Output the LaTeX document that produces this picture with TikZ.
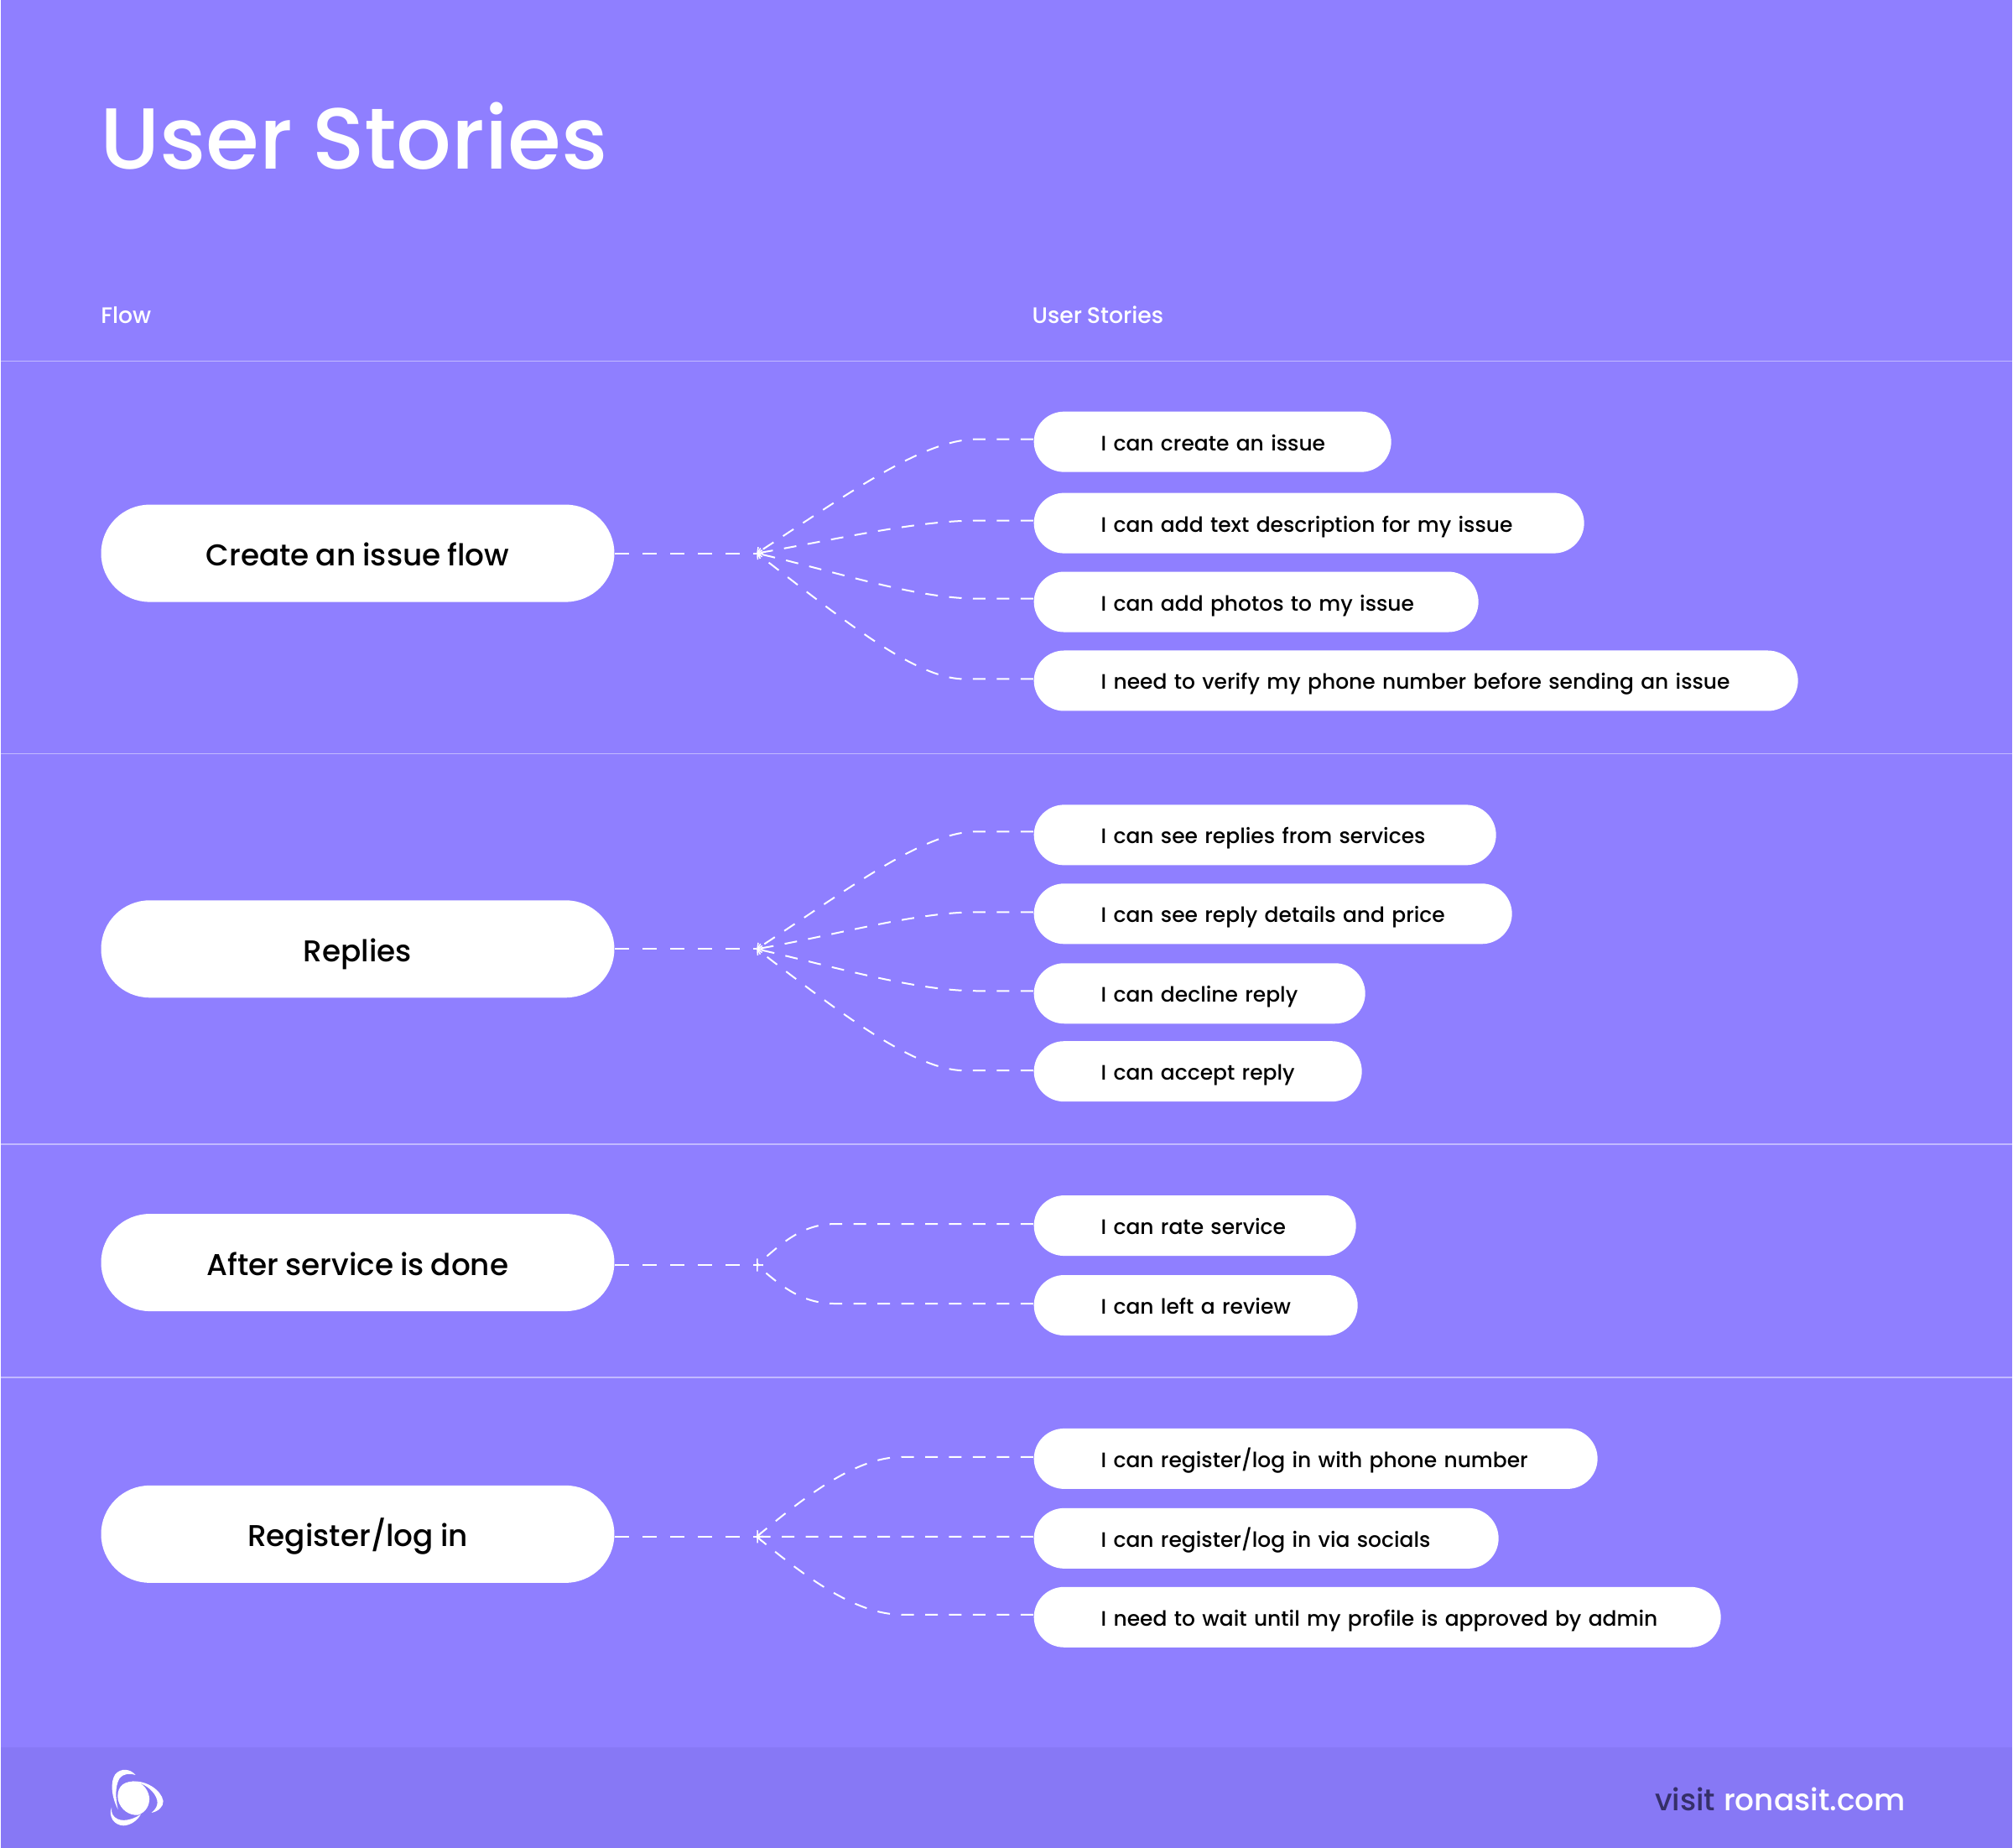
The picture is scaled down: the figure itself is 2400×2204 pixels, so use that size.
\documentclass[tikz,border=0pt]{standalone}
\usepackage{fontspec}
\setmainfont{Poppins}[UprightFont=* Medium,WordSpace=0.85]
\usetikzlibrary{arrows.meta}
\definecolor{ronasbg}{HTML}{8F7FFF}
\definecolor{ronasfoot}{HTML}{8778F5}
\definecolor{ronasrule}{HTML}{C2BAFF}
\definecolor{ronasdark}{HTML}{352F68}
\tikzset{
	flowpill/.style={fill=white,rounded corners=.58cm,minimum width=6.12cm,minimum height=1.16cm,inner sep=0pt,font=\fontsize{10.2}{12}\selectfont,text height=.40cm,text depth=.1cm},
	storypill/.style={anchor=west,fill=white,rounded corners=.36cm,text width=#1cm,inner xsep=.8cm,inner ysep=0pt,minimum height=.72cm,font=\fontsize{7.1}{9}\selectfont,text height=.28cm,text depth=.07cm,execute at begin node={\noindent\hbox\bgroup},execute at end node={\egroup}},
	flowlink/.style={white,line width=.02cm,dash pattern=on .17cm off .16cm},
	storylink/.style={white,line width=.02cm,dash pattern=on .15cm off .135cm,-{Straight Barb[length=1.3pt,width=3pt,line width=.015cm]}},
	rowrule/.style={ronasrule,line width=.015cm},
	headlabel/.style={anchor=base west,white,inner sep=0pt,font=\fontsize{7.6}{9}\selectfont},
}
\begin{document}
\begin{tikzpicture}[x=.01cm,y=-.01cm]
	\fill[ronasbg] (0,0) rectangle (2400,2204);
	\fill[ronasfoot] (0,2084) rectangle (2400,2204);
	\node[anchor=base west,white,inner sep=0pt,font=\fontsize{29.4}{36}\selectfont] (title) at (118,202) {User Stories};
	\node[headlabel] (headflow) at (119,386) {Flow};
	\node[headlabel] (headstory) at (1230,386) {User Stories};
	\draw[rowrule] (0,431) -- (2400,431);
	\draw[rowrule] (0,899) -- (2400,899);
	\draw[rowrule] (0,1365) -- (2400,1365);
	\draw[rowrule] (0,1643) -- (2400,1643);

	\node[flowpill] (flowA) at (426,660) {Create an issue flow};
	\node[flowpill] (flowB) at (426,1132) {Replies};
	\node[flowpill] (flowC) at (426,1506) {After service is done};
	\node[flowpill] (flowD) at (426,1830) {Register/log in};
	\coordinate (hubA) at (902,660);
	\coordinate (hubB) at (902,1132);
	\coordinate (hubC) at (902,1509);
	\coordinate (hubD) at (902,1833);

	\node[storypill=2.66] (storyA1) at (1232,527) {I can create an issue};
	\node[storypill=4.96] (storyA2) at (1232,624) {I can add text description for my issue};
	\node[storypill=3.70] (storyA3) at (1232,718) {I can add photos to my issue};
	\node[storypill=7.51] (storyA4) at (1232,812) {I need to verify my phone number before sending an issue};
	\node[storypill=3.91] (storyB1) at (1232,996) {I can see replies from services};
	\node[storypill=4.10] (storyB2) at (1232,1090) {I can see reply details and price};
	\node[storypill=2.35] (storyB3) at (1232,1185) {I can decline reply};
	\node[storypill=2.31] (storyB4) at (1232,1278) {I can accept reply};
	\node[storypill=2.24] (storyC1) at (1232,1462) {I can rate service};
	\node[storypill=2.26] (storyC2) at (1232,1557) {I can left a review};
	\node[storypill=5.12] (storyD1) at (1232,1740) {I can register/log in with phone number};
	\node[storypill=3.94] (storyD2) at (1232,1835) {I can register/log in via socials};
	\node[storypill=6.59] (storyD3) at (1232,1929) {I need to wait until my profile is approved by admin};

	\draw[flowlink] (flowA.east) -- (hubA);
	\draw[flowlink] (flowB.east) -- (hubB);
	\draw[flowlink] (flowC.east |- hubC) -- (hubC);
	\draw[flowlink] (flowD.east |- hubD) -- (hubD);

	\draw[storylink] ([yshift=.03cm]storyA1.west) -- (1164,524) .. controls (1100,524) and (1010,590) .. (hubA);
	\draw[storylink] ([yshift=.03cm]storyA2.west) -- (1164,621) .. controls (1090,621) and (990,645) .. (hubA);
	\draw[storylink] ([yshift=.04cm]storyA3.west) -- (1164,714) .. controls (1090,714) and (990,680) .. (hubA);
	\draw[storylink] ([yshift=.02cm]storyA4.west) -- (1150,810) .. controls (1090,810) and (1000,735) .. (hubA);
	\draw[storylink] ([yshift=.04cm]storyB1.west) -- (1164,992) .. controls (1100,992) and (1010,1062) .. (hubB);
	\draw[storylink] ([yshift=.02cm]storyB2.west) -- (1164,1088) .. controls (1090,1088) and (990,1117) .. (hubB);
	\draw[storylink] ([yshift=.03cm]storyB3.west) -- (1164,1182) .. controls (1090,1182) and (990,1152) .. (hubB);
	\draw[storylink] ([yshift=.01cm]storyB4.west) -- (1150,1277) .. controls (1090,1277) and (1000,1207) .. (hubB);
	\draw[storylink] ([yshift=.02cm]storyC1.west) -- (995,1460) .. controls (955,1460) and (930,1485) .. (hubC);
	\draw[storylink] ([yshift=.02cm]storyC2.west) -- (995,1555) .. controls (955,1555) and (930,1533) .. (hubC);
	\draw[storylink] ([yshift=.02cm]storyD1.west) -- (1075,1738) .. controls (1020,1738) and (960,1785) .. (hubD);
	\draw[storylink] ([yshift=.02cm]storyD2.west) -- (hubD);
	\draw[storylink] ([yshift=.03cm]storyD3.west) -- (1075,1926) .. controls (1020,1926) and (960,1881) .. (hubD);

	\begin{scope}[shift={(60,2060)},scale=1/3]
		\fill[white] (295,195) .. controls (250,195) and (235,225) .. (240,260) .. controls (248,295) and (280,318) .. (312,315) .. controls (340,305) and (355,280) .. (352,250) .. controls (345,215) and (320,195) .. (295,195) -- cycle;
		\fill[white] (303,172) .. controls (285,150) and (250,145) .. (230,170) .. controls (212,195) and (216,250) .. (240,295) .. controls (232,260) and (228,215) .. (245,185) .. controls (260,165) and (285,165) .. (303,172) -- cycle;
		\fill[white] (290,195) .. controls (340,190) and (395,225) .. (402,265) .. controls (403,285) and (385,302) .. (360,307) .. controls (380,290) and (390,270) .. (370,240) .. controls (350,212) and (320,198) .. (290,195) -- cycle;
		\fill[white] (217,288) .. controls (205,320) and (225,352) .. (260,353) .. controls (285,352) and (310,335) .. (322,312) .. controls (300,328) and (265,340) .. (240,330) .. controls (222,322) and (215,308) .. (217,288) -- cycle;
	\end{scope}

	\node[anchor=base east,white,inner sep=0pt,font=\fontsize{10.2}{13}\selectfont] (footer) at (2273,2160) {\textcolor{ronasdark}{visit}\hspace{.06em} ronasit.com};
\end{tikzpicture}
\end{document}
